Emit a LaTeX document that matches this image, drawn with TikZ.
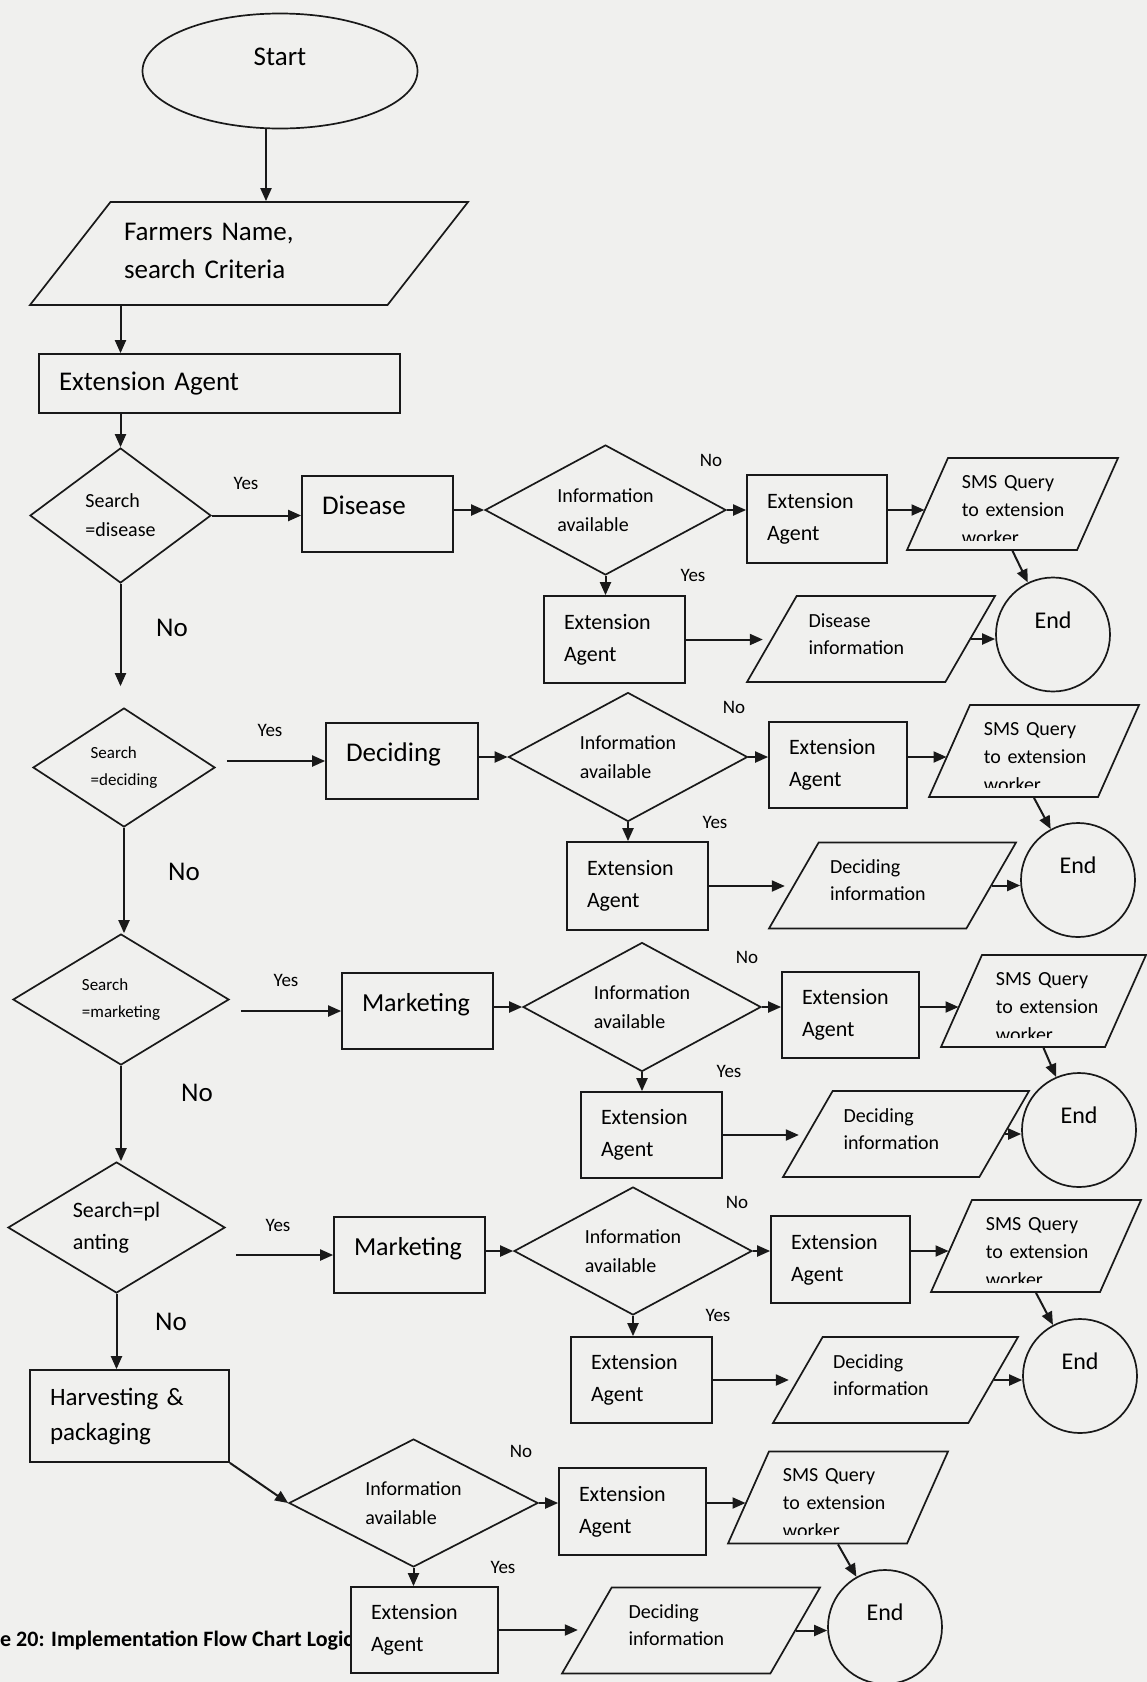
\documentclass[tikz,border=0pt]{standalone}
\usepackage{fontspec}
\setmainfont{Carlito}
\usetikzlibrary{shapes.geometric,arrows.meta}

\definecolor{paper}{RGB}{240,240,238}
\definecolor{ink}{RGB}{25,25,25}
\newcommand\szL{\fontsize{27}{38}\selectfont}
\newcommand\szH{\fontsize{25}{35}\selectfont}
\newcommand\szM{\fontsize{22}{32}\selectfont}
\newcommand\szS{\fontsize{20}{29}\selectfont}
\newcommand\szT{\fontsize{17}{27}\selectfont}
\newcommand\szY{\fontsize{19}{23}\selectfont}
\newcommand\smstext{SMS Query\\to extension\\worker}

\tikzset{
  flow/.style={draw=ink, line width=1.7pt, fill=paper},
  box/.style 2 args={flow, rectangle, inner xsep=20pt, inner ysep=0pt, align=left, text width=#1, minimum height=#2},
  oneline/.style={text height=14pt, text depth=14pt},
  ask/.style 2 args={flow, diamond, aspect=1.8, inner sep=0pt, align=left, minimum width=#1, minimum height=#2},
  io/.style={flow, trapezium, trapezium left angle=60, trapezium right angle=120, trapezium stretches body=true,
    inner xsep=0pt, inner ysep=17pt, minimum width=#1, text width=125pt, align=left,
    text height=14pt, text depth=38pt, font=\fontsize{20}{27}\selectfont},
  sms/.style={flow, trapezium, trapezium left angle=66, trapezium right angle=114, trapezium stretches body=true,
    inner xsep=0pt, inner ysep=46pt, minimum width=#1},
  qtxt/.style={anchor=base west, inner sep=0pt, text width=150pt, align=left, font=\fontsize{20}{28}\selectfont},
  term/.style={flow, ellipse, inner sep=0pt, minimum width=275pt, minimum height=115pt, font=\szL,
    text height=18pt, text depth=29pt},
  endc/.style={flow, circle, inner sep=0pt, minimum size=114pt, font=\fontsize{24}{28}\selectfont,
    text height=17pt, text depth=30pt},
  lbl/.style={inner sep=0pt, font=\szY},
  arr/.style={draw=ink, line width=2pt, -{Triangle[length=13pt,width=11pt]}},
}

% SMS parallelogram, its text cut off near the lower edge
\newcommand\smsnode[3]{%
  \node[sms=#3] (#1) at (#2) {};
  \coordinate (#1a) at (#1.north -| #1.bottom left corner);
  \coordinate (#1b) at (#1.south -| #1.top right corner);
  \begin{scope}
    \clip (#1a) rectangle ([yshift=10pt]#1b);
    \node[qtxt] (#1t) at ([xshift=56pt,yshift=-31pt]#1a) {\smstext};
  \end{scope}}

\begin{document}
\begin{tikzpicture}[x=1pt,y=-1pt]
%%%%% START %%%%%
\useasboundingbox (0,0) rectangle (1147,1682);
\fill[paper] (0,0) rectangle (1147,1682);

\node[anchor=base west, inner sep=0pt, font=\bfseries\fontsize{22}{26}\selectfont] (cap) at (0,1646)
  {e 20: Implementation Flow Chart Logic};

% left column
\node[term] (start) at (280,71) {Start};
\node[flow, trapezium, trapezium left angle=52, trapezium right angle=128, trapezium stretches body=true,
  inner xsep=0pt, inner ysep=18pt, minimum width=438pt, text width=250pt, align=left, font=\szL,
  text height=20pt, text depth=47pt] (inp) at (249,253.5) {Farmers Name,\\search Criteria};
\node[box={321pt}{59pt}, font=\szL] (ea) at (219.5,383.5) {Extension Agent};
\node[ask={181pt}{135pt}, font=\szS] (sdis) at (120.5,515.5) {Search\\=disease};
\node[box={111pt}{76pt}, font=\szL, oneline] (dis) at (377.5,514) {Disease};
\node[ask={182pt}{119pt}, font=\szT] (sdec) at (124,767.5) {Search\\=deciding};
\node[box={112pt}{76pt}, font=\szL, oneline] (dec) at (402,761) {Deciding};
\node[ask={216pt}{131pt}, font=\szT] (smkt) at (121,999.5) {Search\\=marketing};
\node[box={111pt}{76pt}, font=\fontsize{26}{36}\selectfont, oneline] (mkt) at (417.5,1011) {Marketing};
\node[ask={217pt}{131pt}, font=\szM] (spl) at (116.5,1227.5) {Search=pl\\anting};
\node[box={111pt}{76pt}, font=\fontsize{26}{36}\selectfont, oneline] (mkt2) at (409.5,1255) {Marketing};
\node[box={159pt}{92pt}, font=\szH] (hp) at (129.5,1416) {Harvesting \&\\packaging};

\node[lbl] (ys1) at (246,483) {Yes};
\node[lbl] (ys2) at (270,730) {Yes};
\node[lbl] (ys3) at (286,980) {Yes};
\node[lbl] (ys4) at (278,1225) {Yes};
\node[lbl, font=\szL] (ns1) at (172,628) {No};
\node[lbl, font=\szL] (ns2) at (184,872) {No};
\node[lbl, font=\szL] (ns3) at (197,1093) {No};
\node[lbl, font=\szL] (ns4) at (171,1322) {No};

% disease row
\node[ask={241pt}{130pt}, font=\szS] (inf1) at (605.5,510) {Information\\available};
\node[box={100pt}{88pt}, font=\szM] (ea1) at (817,519) {Extension\\Agent};
\smsnode{sms1}{1012.5,504}{211pt}
\node[endc] (end1) at (1053,634.5) {End};
\node[box={101pt}{87pt}, font=\szM] (ea2) at (614.5,639.5) {Extension\\Agent};
\node[io=248pt] (dinf) at (871,639) {Disease\\information};
\node[lbl] (no1) at (711,460) {No};
\node[lbl] (yes1) at (693,575) {Yes};

% deciding row
\node[ask={239pt}{129pt}, font=\szS] (inf2) at (628,757) {Information\\available};
\node[box={98pt}{86pt}, font=\szM] (ea3) at (838,765) {Extension\\Agent};
\smsnode{sms2}{1034,751}{210pt}
\node[endc] (end2) at (1078,880) {End};
\node[box={101pt}{88pt}, font=\szM] (ea4) at (637.5,886) {Extension\\Agent};
\node[io=247pt] (cinf1) at (892.5,885.5) {Deciding\\information};
\node[lbl] (no2) at (734,707) {No};
\node[lbl] (yes2) at (715,822) {Yes};

% marketing row
\node[ask={238pt}{129pt}, font=\szS] (inf3) at (642,1007) {Information\\available};
\node[box={97pt}{86pt}, font=\szM] (ea5) at (850.5,1015) {Extension\\Agent};
\smsnode{sms3}{1043.5,1001}{205pt}
\node[endc] (end3) at (1079,1130) {End};
\node[box={101pt}{86pt}, font=\szM] (ea6) at (651.5,1135) {Extension\\Agent};
\node[io=246pt] (cinf2) at (906,1134) {Deciding\\information};
\node[lbl] (no3) at (747,957) {No};
\node[lbl] (yes3) at (729,1071) {Yes};

% planting row
\node[ask={238pt}{128pt}, font=\szS] (inf4) at (633,1251) {Information\\available};
\node[box={99pt}{87pt}, font=\szM] (ea7) at (840.5,1259.5) {Extension\\Agent};
\smsnode{sms4}{1036,1246}{210pt}
\node[endc] (end4) at (1080,1376) {End};
\node[box={101pt}{86pt}, font=\szM] (ea8) at (641.5,1380) {Extension\\Agent};
\node[io=245pt] (cinf3) at (895.5,1380) {Deciding\\information};
\node[lbl] (no4) at (737,1202) {No};
\node[lbl] (yes4) at (718,1315) {Yes};

% harvesting row
\node[ask={249pt}{128pt}, font=\szS] (inf5) at (413.5,1503) {Information\\available};
\node[box={107pt}{87pt}, font=\szM] (ea9) at (632.5,1511.5) {Extension\\Agent};
\smsnode{sms5}{838,1497.5}{220pt}
\node[endc] (end5) at (885,1627) {End};
\node[box={107pt}{86pt}, font=\szM] (ea10) at (424.5,1630) {Extension\\Agent};
\node[io=258pt] (cinf4) at (691,1630.5) {Deciding\\information};
\node[lbl] (no5) at (521,1451) {No};
\node[lbl] (yes5) at (503,1567) {Yes};

% connectors, left column
\coordinate (s0) at ([xshift=-14pt]start.south);
\draw[arr] (s0) -- (s0 |- inp.north);
\draw[arr] (inp.south -| sdis.north) -- (ea.north -| sdis.north);
\draw[arr] (ea.south -| sdis.north) -- (sdis.north);
\draw[arr, shorten >=21pt] (sdis.south) -- (sdis.south |- sdec.north);
\draw[arr] (sdec.south) -- (sdec.south |- smkt.north);
\draw[arr] (smkt.south) -- (smkt.south |- spl.north);
\draw[arr] (spl.south) -- (spl.south |- hp.north);

\draw[arr] (sdis.east) -- (sdis.east -| dis.west);
\draw[arr, shorten <=11pt] (dec.west -| sdec.east) -- (dec.west);
\draw[arr, shorten <=11pt] (mkt.west -| smkt.east) -- (mkt.west);
\draw[arr, shorten <=10pt] (mkt2.west -| spl.east) -- (mkt2.west);

\draw[arr] (inf1.west -| dis.east) -- (inf1.west);
\draw[arr] (inf2.west -| dec.east) -- (inf2.west);
\draw[arr] (inf3.west -| mkt.east) -- (inf3.west);
\draw[arr] (inf4.west -| mkt2.east) -- (inf4.west);
\draw[arr] (hp.south east) -- (inf5.west);

% connectors, right side
\draw[arr] (inf1.east) -- (inf1.east -| ea1.west);
\draw[arr, shorten >=2pt] (inf1.east -| ea1.east) -- (inf1.east -| sms1.west);
\draw[arr] (sms1.south) -- (end1);
\draw[arr] (inf1.south) -- (inf1.south |- ea2.north);
\draw[arr, shorten >=8pt] (ea2.east) -- (ea2.east -| dinf.west);
\draw[arr] (dinf.east) -- (dinf.east -| end1.west);

\draw[arr] (inf2.east) -- (inf2.east -| ea3.west);
\draw[arr, shorten >=2pt] (inf2.east -| ea3.east) -- (inf2.east -| sms2.west);
\draw[arr] (sms2.south) -- (end2);
\draw[arr] (inf2.south) -- (inf2.south |- ea4.north);
\draw[arr, shorten >=8pt] (ea4.east) -- (ea4.east -| cinf1.west);
\draw[arr] (cinf1.east) -- (cinf1.east -| end2.west);

\draw[arr] (inf3.east) -- (inf3.east -| ea5.west);
\draw[arr, shorten >=2pt] (inf3.east -| ea5.east) -- (inf3.east -| sms3.west);
\draw[arr] (sms3.south) -- (end3);
\draw[arr] (inf3.south) -- (inf3.south |- ea6.north);
\draw[arr, shorten >=8pt] (ea6.east) -- (ea6.east -| cinf2.west);
\draw[arr] (cinf2.east) -- (cinf2.east -| end3.west);

\draw[arr] (inf4.east) -- (inf4.east -| ea7.west);
\draw[arr, shorten >=2pt] (inf4.east -| ea7.east) -- (inf4.east -| sms4.west);
\draw[arr] (sms4.south) -- (end4);
\draw[arr] (inf4.south) -- (inf4.south |- ea8.north);
\draw[arr, shorten >=8pt] (ea8.east) -- (ea8.east -| cinf3.west);
\draw[arr] (cinf3.east) -- (cinf3.east -| end4.west);

\draw[arr] (inf5.east) -- (inf5.east -| ea9.west);
\draw[arr, shorten >=2pt] (inf5.east -| ea9.east) -- (inf5.east -| sms5.west);
\draw[arr] (sms5.south) -- (end5);
\draw[arr] (inf5.south) -- (inf5.south |- ea10.north);
\draw[arr, shorten >=8pt] (ea10.east) -- (ea10.east -| cinf4.west);
\draw[arr] (cinf4.east) -- (cinf4.east -| end5.west);
%%%%% END %%%%%
\end{tikzpicture}
\end{document}
